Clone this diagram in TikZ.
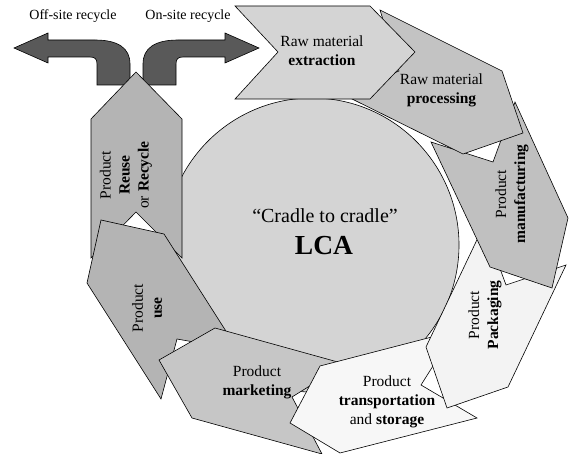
\documentclass[tikz,border=0pt]{standalone}
\usepackage{fontspec}
\setmainfont{Liberation Serif}
\definecolor{circfill}{HTML}{D4D4D4}
\definecolor{extfill}{HTML}{D4D4D4}
\definecolor{procfill}{HTML}{C3C3C3}
\definecolor{manufill}{HTML}{C0C0C0}
\definecolor{packfill}{HTML}{F3F3F3}
\definecolor{transfill}{HTML}{F7F7F7}
\definecolor{mktfill}{HTML}{C6C6C6}
\definecolor{usefill}{HTML}{B4B4B4}
\definecolor{reusefill}{HTML}{B4B4B4}
\definecolor{arrowfill}{HTML}{595959}
\begin{document}
\begin{tikzpicture}[x=1pt,y=-1pt,
  shp/.style={draw=black, line width=0.6pt, line join=miter},
  lbl/.style={font=\fontsize{15.5}{19}\selectfont, align=center, inner sep=0pt},
  toplbl/.style={font=\fontsize{14}{16}\selectfont, inner sep=0pt}]
\useasboundingbox (0,0) rectangle (570,454);

% central circle
\filldraw[shp, fill=circfill] (312,245) circle[radius=147pt];

% recycle arrows
\filldraw[shp, fill=arrowfill] (14,48) -- (48,33) -- (48,40) -- (95,40)
  .. controls (118,40) and (130,48) .. (130,64) -- (130,85) -- (97,85) -- (97,64)
  .. controls (97,59) and (95,57) .. (90,57) -- (48,57) -- (48,63) -- cycle;
\filldraw[shp, fill=arrowfill] (259,48) -- (225,33) -- (225,40) -- (178,40)
  .. controls (155,40) and (143,48) .. (143,64) -- (143,85) -- (176,85) -- (176,64)
  .. controls (176,59) and (178,57) .. (183,57) -- (225,57) -- (225,63) -- cycle;

% chevrons (drawn from last to first so earlier ones lie on top)
\filldraw[shp, fill=reusefill] (136,72) -- (182,119) -- (182,258) -- (136,212) -- (91,258) -- (91,119) -- cycle;
\filldraw[shp, fill=usefill] (101,220) -- (164,234) -- (238,350) -- (177,339) -- (161,399) -- (87,283) -- cycle;
\filldraw[shp, fill=mktfill] (215,328) -- (345,364) -- (292,397) -- (322,454) -- (192,418) -- (159,360) -- cycle;
\filldraw[shp, fill=transfill] (455,331) -- (421,385) -- (477,418) -- (340,453) -- (290,423) -- (320,366) -- cycle;
\filldraw[shp, fill=packfill] (484,225) -- (506,285) -- (566,265) -- (508,387) -- (447,408) -- (426,347) -- cycle;
\filldraw[shp, fill=manufill] (431,142) -- (493,162) -- (515,102) -- (568,218) -- (552,288) -- (490,267) -- cycle;
\filldraw[shp, fill=procfill] (380,10) -- (399,71) -- (342,94) -- (463,154) -- (523,133) -- (502,71) -- cycle;
\filldraw[shp, fill=extfill] (235,6) -- (278,52) -- (235,99) -- (370,99) -- (415,52) -- (370,6) -- cycle;

% labels
\node[toplbl] (offsite) at (73,16) {Off-site recycle};
\node[toplbl] (onsite) at (188,16) {On-site recycle};
\node[lbl] (ext) at (322,50.5) {Raw material\\\textbf{extraction}};
\node[lbl] (proc) at (441.5,90) {Raw material\\\textbf{processing}};
\node[lbl, rotate=90] (manu) at (512,194) {Product\\\textbf{manufacturing}};
\node[lbl, rotate=90] (pack) at (485,315) {Product\\\textbf{Packaging}};
\node[lbl] (trans) at (387,402) {Product\\\textbf{transportation}\\and \textbf{storage}};
\node[lbl] (mkt) at (257,382) {Product\\\textbf{marketing}};
\node[lbl, rotate=90] (use) at (147,308) {Product\\\textbf{use}};
\node[lbl, rotate=90] (reuse) at (126,175) {Product\\\textbf{Reuse}\\or \textbf{Recycle}};
\node[font=\fontsize{20}{24}\selectfont, inner sep=0pt] (c2c) at (325,216) {“Cradle to cradle”};
\node[font=\bfseries\fontsize{27.5}{30}\selectfont, inner sep=0pt] (lca) at (324,246) {LCA};
\end{tikzpicture}
\end{document}
